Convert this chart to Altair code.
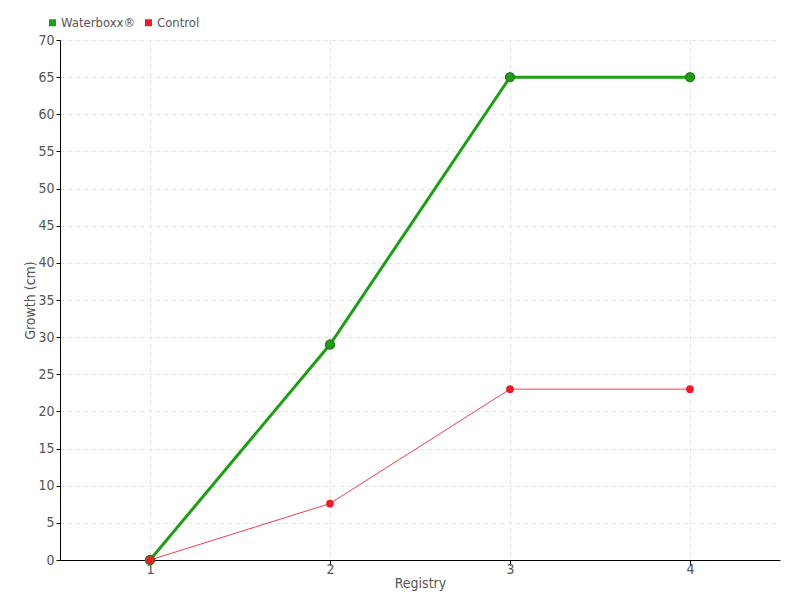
import altair as alt
import pandas as pd

registry = [1, 2, 3, 4]
waterboxx = [0, 29, 65, 65]
control = [0, 7.6, 23, 23]
series_names = ["Waterboxx®", "Control"]
colors = ["#1e9e14", "#ee1c2b"]

rows = []
for r, v in zip(registry, waterboxx):
    rows.append({"Registry": r, "Growth": v, "Series": series_names[0]})
for r, v in zip(registry, control):
    rows.append({"Registry": r, "Growth": v, "Series": series_names[1]})
df = pd.DataFrame(rows)

FONT = "'DejaVu Sans Condensed', 'Roboto', sans-serif"

x = alt.X("Registry:Q", title="Registry",
          scale=alt.Scale(domain=[0.5, 4.5], nice=False, zero=False),
          axis=alt.Axis(values=registry, format="d", titlePadding=0,
                        gridDash=[4, 4], gridColor="#e3e3e3", domainColor="#000",
                        tickColor="#000", tickSize=5, labelPadding=-3))
y = alt.Y("Growth:Q", title="Growth (cm)",
          scale=alt.Scale(domain=[0, 70], nice=False),
          axis=alt.Axis(values=list(range(0, 71, 5)), gridDash=[4, 4],
                        gridColor="#e3e3e3", domainColor="#000", tickColor="#000",
                        tickSize=4, titlePadding=0))
color = alt.Color("Series:N", scale=alt.Scale(domain=series_names, range=colors),
                  sort=series_names,
                  legend=alt.Legend(title=None, orient="none", legendX=-14, legendY=-24,
                                    direction="horizontal", symbolType="square",
                                    symbolSize=30, labelFontSize=13, columnPadding=6,
                                    symbolOffset=0, labelOffset=2))

base = alt.Chart(df)

green = base.transform_filter(alt.datum.Series == series_names[0])
red = base.transform_filter(alt.datum.Series == series_names[1])

g_line = green.mark_line(strokeWidth=3).encode(x=x, y=y, color=color)
g_pts = green.mark_point(filled=True, size=80, opacity=1, stroke="#2a7a22",
                         strokeWidth=1.5).encode(x=x, y=y, color=color)
r_line = red.mark_line(strokeWidth=1, opacity=0.85).encode(x=x, y=y, color=color)
r_pts = red.mark_point(filled=True, size=60, opacity=1).encode(x=x, y=y, color=color)

chart = alt.layer(g_line, g_pts, r_line, r_pts).properties(
    width=720, height=520,
    autosize=alt.AutoSizeParams(type="none"),
    padding={"left": 52, "top": 32, "right": 12, "bottom": 32},
).configure_view(stroke=None).configure_axis(
    labelFont=FONT, titleFont=FONT, labelFontSize=14, titleFontSize=14,
    labelColor="#555", titleColor="#555", titleFontWeight="normal",
).configure_legend(labelFont=FONT, labelColor="#555")

chart.save("out.html", embed_options={"renderer": "svg", "actions": False})
